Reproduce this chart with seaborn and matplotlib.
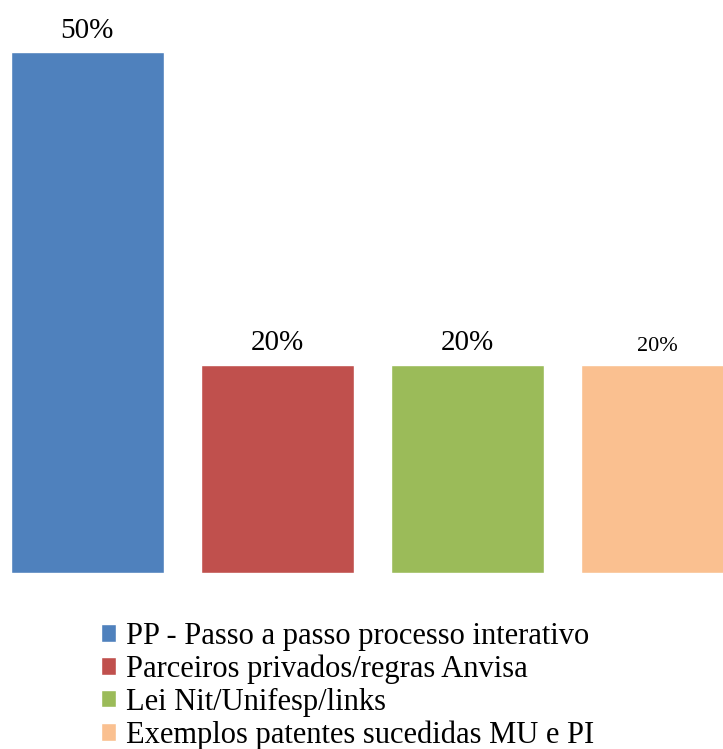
import matplotlib
matplotlib.use("Agg")
import matplotlib.pyplot as plt
import seaborn as sns
import pandas as pd

# Chart data
categories = [
    "PP - Passo a passo processo interativo",
    "Parceiros privados/regras Anvisa",
    "Lei Nit/Unifesp/links",
    "Exemplos patentes sucedidas MU e PI",
]
values = [50, 20, 20, 20]
colors = ["#4F81BD", "#C0504D", "#9BBB59", "#FAC090"]
label_sizes = [21, 21, 21, 16]

df = pd.DataFrame({"categoria": categories, "valor": values})

sns.set_theme(style="white")
plt.rcParams["font.family"] = ["Liberation Serif", "DejaVu Serif"]
plt.rcParams["text.color"] = "black"

fig = plt.figure(figsize=(7.23, 7.49), dpi=100)
ax = fig.add_axes([0, 0.235, 1, 0.765])

sns.barplot(data=df, x="categoria", y="valor", hue="categoria",
            palette=colors, dodge=False, width=0.805, saturation=1,
            legend=True, ax=ax)

for cont, size in zip(ax.containers, label_sizes):
    ax.bar_label(cont, fmt="%d%%", padding=6, fontsize=size, color="black")

ax.set_xlim(-0.458, 3.347)
ax.set_ylim(0, 55)
ax.axis("off")

handles, labels = ax.get_legend_handles_labels()
ax.get_legend().remove()
fig.legend(handles, labels, loc="upper left", bbox_to_anchor=(0.14, 0.17),
           frameon=False, fontsize=22, handlelength=0.5, handleheight=0.5,
           handletextpad=0.3, labelspacing=0.12, borderpad=0, borderaxespad=0,
           labelcolor="black")

fig.savefig("out.png", dpi=100, facecolor="white")
